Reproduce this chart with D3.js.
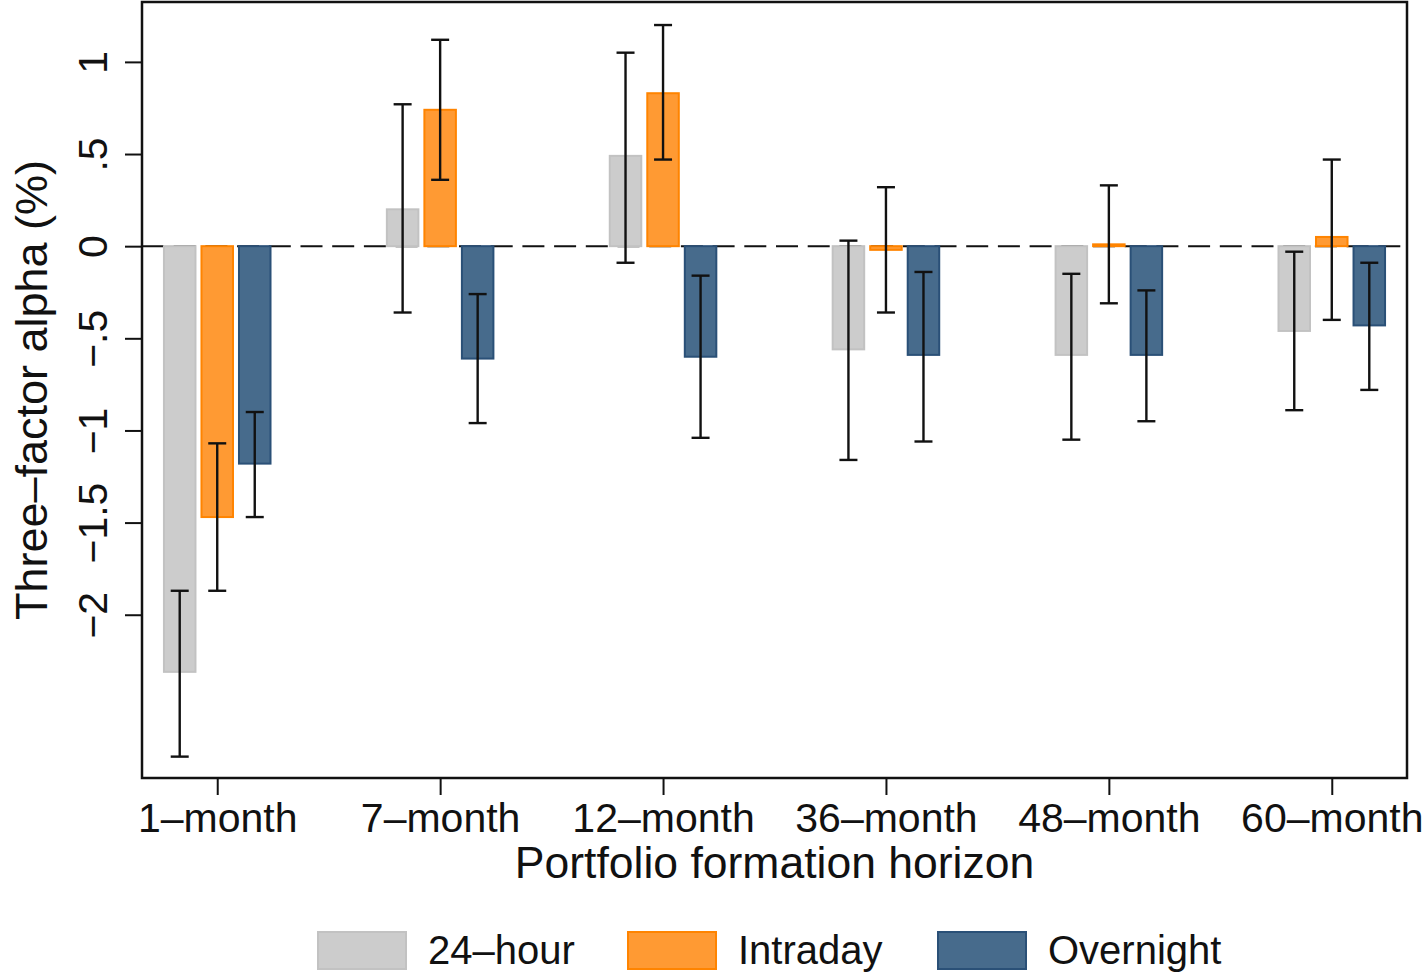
<!DOCTYPE html>
<html>
<head>
<meta charset="utf-8">
<script src="https://cdn.jsdelivr.net/npm/d3@7"></script>
<style>
  html, body { margin: 0; padding: 0; background: #fff; }
  svg { display: block; font-family: "Liberation Sans", Arial, Helvetica, sans-serif; }
</style>
</head>
<body>
<svg id="chart" width="1426" height="974"></svg>
<script>
// Formation horizons on the x axis
const horizons = ["1\u2013month", "7\u2013month", "12\u2013month", "36\u2013month", "48\u2013month", "60\u2013month"];

// Return series shown in each group
const seriesNames = ["24\u2013hour", "Intraday", "Overnight"];

// Three-factor alpha (%) point estimates, one value per horizon
const alpha24h      = [-2.31, 0.20, 0.49, -0.56, -0.59, -0.46];
const alphaIntraday = [-1.47, 0.74, 0.83, -0.02, 0.01, 0.05];
const alphaOvernight= [-1.18, -0.61, -0.60, -0.59, -0.59, -0.43];

// Confidence interval bounds (lower, upper)
const lo24h       = [-2.77, -0.36, -0.09, -1.16, -1.05, -0.89];
const hi24h       = [-1.87, 0.77, 1.05, 0.03, -0.15, -0.03];
const loIntraday  = [-1.87, 0.36, 0.47, -0.36, -0.31, -0.40];
const hiIntraday  = [-1.07, 1.12, 1.20, 0.32, 0.33, 0.47];
const loOvernight = [-1.47, -0.96, -1.04, -1.06, -0.95, -0.78];
const hiOvernight = [-0.90, -0.26, -0.16, -0.14, -0.24, -0.09];

// Y axis tick values and their printed labels
const yTicks = [-2, -1.5, -1, -0.5, 0, 0.5, 1];
const yTickLabels = ["\u22122", "\u22121.5", "\u22121", "\u2212.5", "0", ".5", "1"];

const xTitle = "Portfolio formation horizon";
const yTitle = "Three\u2013factor alpha (%)";

const styles = {
  "24\u2013hour": { fill: "#cccccc", stroke: "#c2c2c2" },
  "Intraday":     { fill: "#ff9a33", stroke: "#ff8400" },
  "Overnight":    { fill: "#476b8c", stroke: "#2a5077" }
};

const seriesData = [
  { name: seriesNames[0], values: alpha24h, lo: lo24h, hi: hi24h },
  { name: seriesNames[1], values: alphaIntraday, lo: loIntraday, hi: hiIntraday },
  { name: seriesNames[2], values: alphaOvernight, lo: loOvernight, hi: hiOvernight }
];

const svg = d3.select("#chart");
const plot = { left: 142, right: 1407, top: 2, bottom: 778 };

const x = d3.scalePoint().domain(horizons).range([plot.left, plot.right]).padding(0.3375);
const groupHalf = x.step() * 0.239;
const xs = d3.scaleBand().domain(seriesNames).range([-groupHalf, groupHalf]).paddingInner(0.16).paddingOuter(0);
const y = d3.scaleLinear().domain([-2.886, 1.325]).range([plot.bottom, plot.top]);

// Zero reference line (dashed)
svg.append("line")
  .attr("x1", plot.left).attr("x2", plot.right)
  .attr("y1", y(0)).attr("y2", y(0))
  .attr("stroke", "#111").attr("stroke-width", 2)
  .attr("stroke-dasharray", "22,9.7");

// Bars
const flat = [];
seriesData.forEach(s => {
  horizons.forEach((h, i) => {
    flat.push({ series: s.name, horizon: h, v: s.values[i], lo: s.lo[i], hi: s.hi[i] });
  });
});

svg.append("g").selectAll("rect")
  .data(flat)
  .join("rect")
  .attr("x", d => x(d.horizon) + xs(d.series))
  .attr("width", xs.bandwidth())
  .attr("y", d => Math.min(y(d.v), y(0)))
  .attr("height", d => Math.max(Math.abs(y(d.v) - y(0)), 1))
  .attr("fill", d => styles[d.series].fill)
  .attr("stroke", d => styles[d.series].stroke)
  .attr("stroke-width", 2);

// Error bars
const capHalf = 9;
const eb = svg.append("g").attr("stroke", "#111").attr("stroke-width", 2.4);
flat.forEach(d => {
  const cx = x(d.horizon) + xs(d.series) + xs.bandwidth() / 2;
  eb.append("line").attr("x1", cx).attr("x2", cx).attr("y1", y(d.lo)).attr("y2", y(d.hi));
  eb.append("line").attr("x1", cx - capHalf).attr("x2", cx + capHalf).attr("y1", y(d.lo)).attr("y2", y(d.lo));
  eb.append("line").attr("x1", cx - capHalf).attr("x2", cx + capHalf).attr("y1", y(d.hi)).attr("y2", y(d.hi));
});

// Plot frame
svg.append("rect")
  .attr("x", plot.left).attr("y", plot.top)
  .attr("width", plot.right - plot.left).attr("height", plot.bottom - plot.top)
  .attr("fill", "none").attr("stroke", "#111").attr("stroke-width", 2.5);

// Y axis
const yAxis = d3.axisLeft(y).tickValues(yTicks).tickSize(17)
  .tickFormat((d, i) => yTickLabels[i]);
const gy = svg.append("g").attr("transform", `translate(${plot.left},0)`).call(yAxis);
gy.select(".domain").remove();
gy.selectAll(".tick line").attr("stroke", "#111").attr("stroke-width", 2);
gy.selectAll(".tick text")
  .attr("x", null).attr("dy", null)
  .attr("transform", "translate(-35,0) rotate(-90)")
  .attr("text-anchor", "middle")
  .attr("font-size", 41)
  .attr("font-family", "Liberation Sans, Arial, sans-serif")
  .attr("fill", "#111");

// X axis
const xAxis = d3.axisBottom(x).tickSize(17);
const gx = svg.append("g").attr("transform", `translate(0,${plot.bottom})`).call(xAxis);
gx.select(".domain").remove();
gx.selectAll(".tick line").attr("stroke", "#111").attr("stroke-width", 2);
gx.selectAll(".tick text")
  .attr("y", 54).attr("dy", null)
  .attr("font-size", 41)
  .attr("font-family", "Liberation Sans, Arial, sans-serif")
  .attr("fill", "#111");

// Axis titles
svg.append("text")
  .attr("x", (plot.left + plot.right) / 2).attr("y", 878)
  .attr("text-anchor", "middle").attr("font-size", 44.5).attr("fill", "#111")
  .text(xTitle);

svg.append("text")
  .attr("transform", `translate(47,${(plot.top + plot.bottom) / 2}) rotate(-90)`)
  .attr("text-anchor", "middle").attr("font-size", 45).attr("fill", "#111")
  .text(yTitle);

// Legend
const lx = d3.scalePoint().domain(seriesNames).range([318, 938]);
const legend = svg.append("g").selectAll("g").data(seriesNames).join("g")
  .attr("transform", d => `translate(${lx(d)},932)`);
legend.append("rect")
  .attr("width", 88).attr("height", 37)
  .attr("fill", d => styles[d].fill)
  .attr("stroke", d => styles[d].stroke).attr("stroke-width", 2);
legend.append("text")
  .attr("x", 110).attr("y", 32)
  .attr("font-size", 40).attr("fill", "#111")
  .text(d => d);
</script>
</body>
</html>
